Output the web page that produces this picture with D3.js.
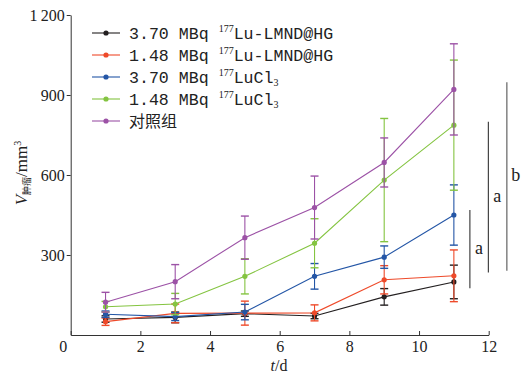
<!DOCTYPE html>
<html>
<head>
<meta charset="utf-8">
<script src="https://cdn.jsdelivr.net/npm/d3@7"></script>
<style>
  body { margin: 0; background: #fff; }
  svg { display: block; }
  .axis text { font-family: "Liberation Serif", serif; font-size: 16px; fill: #222; }
  .axis path, .axis line { stroke: #333; stroke-width: 1; }
</style>
</head>
<body>
<div id="chart"></div>
<script>
// tumour volume, mean and error per day
const days = [1, 3, 5, 7, 9, 11];
const seriesNames = ["3.70 MBq|177|Lu-LMND@HG", "1.48 MBq|177|Lu-LMND@HG", "3.70 MBq|177|LuCl3", "1.48 MBq|177|LuCl3", "对照组"];
const seriesColors = ["#231f20", "#ee4a2a", "#2456a6", "#84c441", "#9c52a6"];
const black = [60, 66, 80, 71, 143, 199];
const blackErr = [12, 20, 10, 10, 31, 63];
const red = [50, 81, 82, 83, 207, 222];
const redErr = [14, 35, 45, 30, 53, 97];
const blue = [78, 69, 86, 220, 292, 450];
const blueErr = [12, 15, 29, 48, 42, 113];
const green = [106, 116, 220, 344, 581, 787];
const greenErr = [20, 40, 66, 92, 231, 244];
const purple = [123, 200, 365, 478, 647, 921];
const purpleErr = [37, 64, 81, 118, 92, 171];
const xTicks = [0, 2, 4, 6, 8, 10, 12];
const yTicks = [300, 600, 900, 1200];
// significance brackets: x, y from, y to, letter
const sigX = [11.46, 11.99, 12.52];
const sigLow = [175, 234, 241];
const sigHigh = [469, 800, 948];
const sigText = ["a", "a", "b"];

const W = 521, H = 376;
const margin = { top: 15, left: 70.7, right: 32.3, bottom: 41 };
const serif = "'Liberation Serif', serif";

const svg = d3.select("#chart").append("svg")
  .attr("width", W).attr("height", H);

const x = d3.scaleLinear().domain([0, 12]).range([margin.left, W - margin.right]);
const y = d3.scaleLinear().domain([0, 1200]).range([H - margin.bottom, margin.top]);

// x axis, ticks point up into the plot
const xAxis = svg.append("g")
  .attr("class", "axis")
  .attr("transform", "translate(0," + y(0) + ")")
  .call(d3.axisBottom(x).tickValues(xTicks).tickSizeInner(-4).tickSizeOuter(0).tickPadding(6))
  .attr("font-family", serif).attr("font-size", 16);
xAxis.selectAll(".tick").filter(d => d === 0).select("text").attr("dx", -8);

// y axis
const fmt = v => v >= 1000 ? Math.floor(v / 1000) + "\u2009" + String(v % 1000).padStart(3, "0") : String(v);
svg.append("g")
  .attr("class", "axis")
  .attr("transform", "translate(" + x(0) + ",0)")
  .call(d3.axisLeft(y).tickValues(yTicks).tickSizeInner(4).tickSizeOuter(0).tickPadding(2).tickFormat(fmt))
  .attr("font-family", serif).attr("font-size", 16);

// axis titles
svg.append("text")
  .attr("x", 279).attr("y", 371)
  .attr("text-anchor", "middle")
  .style("font-family", serif).style("font-size", "16px").style("fill", "#222")
  .html('<tspan font-style="italic">t</tspan>/d');

const yl = svg.append("text")
  .attr("transform", "translate(27,173) rotate(-90)")
  .attr("text-anchor", "middle")
  .style("font-family", serif).style("font-size", "17px").style("fill", "#222");
yl.append("tspan").attr("font-style", "italic").text("V");
yl.append("tspan").attr("dy", 3).style("font-size", "9px").style("font-family", "'Noto Sans CJK SC'").text("肿瘤");
yl.append("tspan").attr("dy", -3).text("/mm");
yl.append("tspan").attr("dy", -6).style("font-size", "10px").text("3");

// lines with error bars
const means = [black, red, blue, green, purple];
const errs = [blackErr, redErr, blueErr, greenErr, purpleErr];
const line = d3.line().x(d => x(d.day)).y(d => y(d.v));

means.forEach((m, i) => {
  const pts = days.map((d, j) => ({ day: d, v: m[j], e: errs[i][j] }));
  const g = svg.append("g").attr("stroke", seriesColors[i]).attr("fill", seriesColors[i]);
  g.append("path").datum(pts).attr("d", line).attr("fill", "none").attr("stroke-width", 1.1);
  const eb = g.selectAll(".eb").data(pts).enter().append("g").attr("stroke-width", 1.1);
  eb.append("line")
    .attr("x1", d => x(d.day)).attr("x2", d => x(d.day))
    .attr("y1", d => y(d.v - d.e)).attr("y2", d => y(d.v + d.e));
  eb.append("line")
    .attr("x1", d => x(d.day) - 4).attr("x2", d => x(d.day) + 4)
    .attr("y1", d => y(d.v + d.e)).attr("y2", d => y(d.v + d.e)).attr("stroke-width", 1.4);
  eb.append("line")
    .attr("x1", d => x(d.day) - 4).attr("x2", d => x(d.day) + 4)
    .attr("y1", d => y(d.v - d.e)).attr("y2", d => y(d.v - d.e)).attr("stroke-width", 1.4);
  g.selectAll("circle").data(pts).enter().append("circle")
    .attr("cx", d => x(d.day)).attr("cy", d => y(d.v)).attr("r", 2.6).attr("stroke", "none");
});

// significance brackets
sigX.forEach((sx, i) => {
  svg.append("line")
    .attr("x1", x(sx)).attr("x2", x(sx))
    .attr("y1", y(sigLow[i])).attr("y2", y(sigHigh[i]))
    .attr("stroke", i === 2 ? "#8a8a8a" : "#333").attr("stroke-width", i === 2 ? 1.6 : 1.1);
  svg.append("text")
    .attr("x", x(sx) + 9).attr("y", y((sigLow[i] + sigHigh[i]) / 2) + 5)
    .attr("text-anchor", "middle")
    .style("font-family", serif).style("font-size", "18px").style("fill", "#222")
    .text(sigText[i]);
});

// legend
const legend = svg.append("g").attr("transform", "translate(92,33)");
seriesNames.forEach((name, i) => {
  const row = legend.append("g").attr("transform", "translate(0," + (i * 22) + ")");
  row.append("line").attr("x1", 0).attr("x2", 28).attr("stroke", seriesColors[i]).attr("stroke-width", 1.1);
  row.append("circle").attr("cx", 14).attr("r", 2.6).attr("fill", seriesColors[i]);
  const t = row.append("text").attr("x", 37).attr("y", 6)
    .style("font-family", "'Liberation Mono', monospace").style("font-size", "16.6px").style("fill", "#222");
  const parts = name.split("|");
  if (parts.length === 1) {
    t.style("font-family", "'Noto Sans CJK SC'").style("font-size", "16px").text(name);
    return;
  }
  t.append("tspan").text(parts[0] + " ");
  t.append("tspan").attr("dy", -7).style("font-family", serif).style("font-size", "10px").text(parts[1]);
  const rest = parts[2];
  if (rest.endsWith("3")) {
    t.append("tspan").attr("dy", 7).text(rest.slice(0, -1));
    t.append("tspan").attr("dy", 3).style("font-family", serif).style("font-size", "10px").text("3");
  } else {
    t.append("tspan").attr("dy", 7).text(rest);
  }
});
</script>
</body>
</html>
